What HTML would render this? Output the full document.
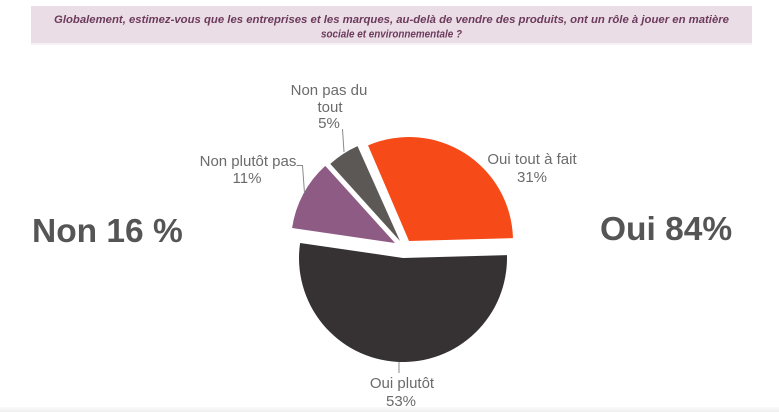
<!DOCTYPE html>
<html>
<head>
<meta charset="utf-8">
<style>
  html,body{margin:0;padding:0;background:#ffffff;}
  body{width:779px;height:412px;overflow:hidden;}
  svg{display:block;}
</style>
</head>
<body>
<svg width="779" height="412" viewBox="0 0 779 412" xmlns="http://www.w3.org/2000/svg">
  <defs>
    <linearGradient id="bot" x1="0" y1="0" x2="0" y2="1">
      <stop offset="0" stop-color="#fafafa"/>
      <stop offset="1" stop-color="#efefef"/>
    </linearGradient>
  </defs>
  <rect x="0" y="0" width="779" height="412" fill="#ffffff"/>

  <!-- Header box -->
  <rect x="31" y="6" width="721" height="37" fill="#ebdde6"/>
  <rect x="31" y="43" width="721" height="2" fill="#f7f2f5"/>
  <text x="391.5" y="23" text-anchor="middle" font-family="Liberation Sans, Arial, sans-serif" font-size="11" font-weight="bold" font-style="italic" fill="#6b3a5c" textLength="675" lengthAdjust="spacingAndGlyphs">Globalement, estimez-vous que les entreprises et les marques, au-delà de vendre des produits, ont un rôle à jouer en matière</text>
  <text x="391.5" y="37.5" text-anchor="middle" font-family="Liberation Sans, Arial, sans-serif" font-size="11" font-weight="bold" font-style="italic" fill="#6b3a5c" textLength="141" lengthAdjust="spacingAndGlyphs">sociale et environnementale ?</text>

  <!-- Pie slices -->
  <path d="M409,241 L368.03,145.41 A104,104 0 0 1 512.96,238.10 Z" fill="#f64a18"/>
  <path d="M403,258 L506.96,255.10 A104,104 0 1 1 300.09,242.99 Z" fill="#363234"/>
  <path d="M395,243 L292.09,227.99 A104,104 0 0 1 325.27,165.83 Z" fill="#8e5b85"/>
  <path d="M400,241 L330.27,163.83 A104,104 0 0 1 357.53,146.07 Z" fill="#5c5856"/>

  <!-- Leader lines -->
  <g stroke="#8a8a8a" stroke-width="1" fill="none">
    <polyline points="296.5,165.5 302.5,165.5 304.5,193"/>
    <line x1="342.5" y1="129" x2="344" y2="152"/>
    <line x1="399" y1="362" x2="399" y2="373"/>
  </g>

  <!-- Slice labels -->
  <g font-family="Liberation Sans, Arial, sans-serif" font-size="15" fill="#6b6b6b" text-anchor="middle">
    <text x="532" y="164">Oui tout à fait</text>
    <text x="532" y="182">31%</text>
    <text x="329" y="95">Non pas du</text>
    <text x="330" y="112">tout</text>
    <text x="329" y="128">5%</text>
    <text x="248" y="166">Non plutôt pas</text>
    <text x="247" y="183">11%</text>
    <text x="402" y="388">Oui plutôt</text>
    <text x="401" y="406">53%</text>
  </g>

  <!-- Big labels -->
  <text x="32" y="242" font-family="Liberation Sans, Arial, sans-serif" font-size="33.5" font-weight="bold" fill="#555555">Non 16 %</text>
  <text x="600" y="240" font-family="Liberation Sans, Arial, sans-serif" font-size="33.5" font-weight="bold" fill="#555555">Oui 84%</text>

  <!-- Bottom strip -->
  <rect x="0" y="407" width="779" height="5" fill="url(#bot)"/>
</svg>
</body>
</html>
